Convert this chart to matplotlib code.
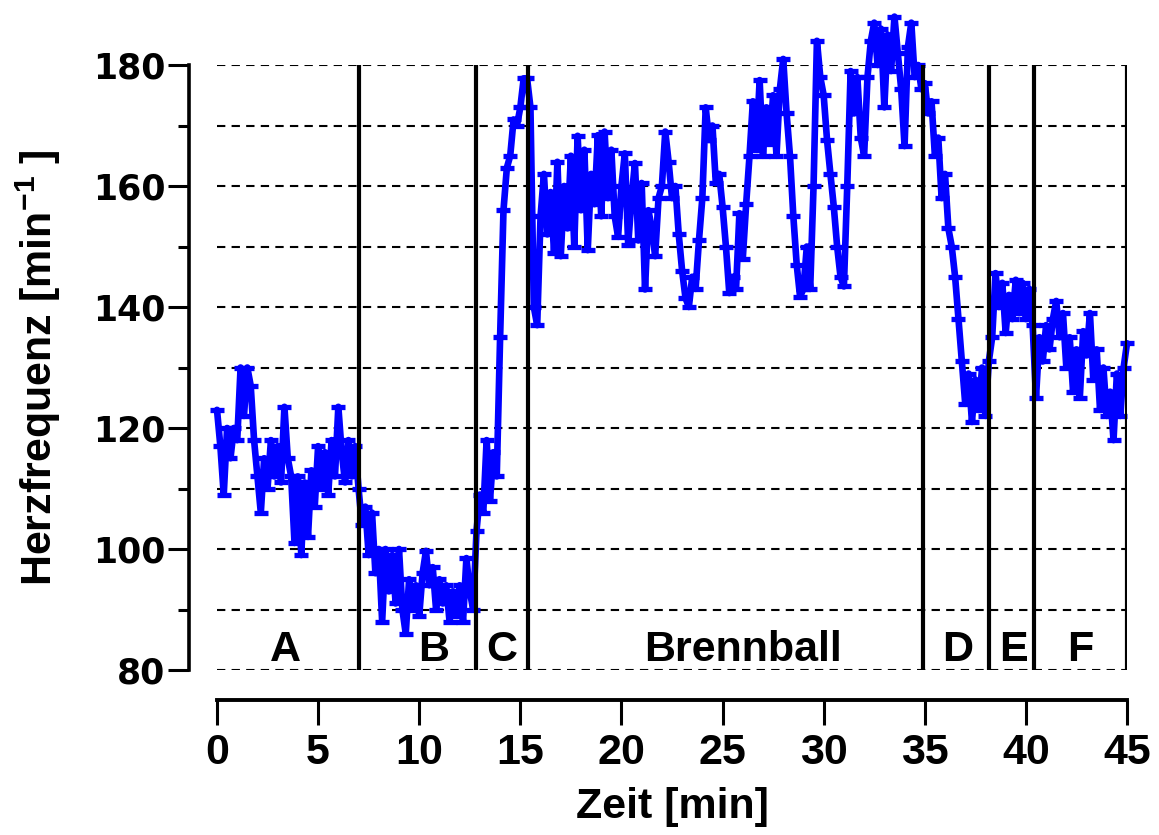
import numpy as np
import matplotlib
matplotlib.use("Agg")
import matplotlib.pyplot as plt

plt.rcParams["mathtext.fontset"] = "custom"
plt.rcParams["mathtext.rm"] = "Liberation Sans:bold"
plt.rcParams["mathtext.bf"] = "Liberation Sans:bold"

# ---- data (heart rate, one sample every 10 s) ----
hr_A = [123, 117, 109, 120, 115, 120, 118, 130, 122, 130,
        127, 118, 112, 106, 115, 110, 118, 112, 117, 111,
        123.5, 115, 112, 101, 112, 99, 111, 102, 113, 107,
        117, 110, 116, 109, 118, 112, 123.5, 116, 111, 118,
        112, 117]
hr_B = [110, 104, 107, 99, 106, 96, 100, 88, 100, 93,
        99, 91, 100, 90, 86, 95, 90, 94, 89, 96,
        99.7, 94, 97, 90, 95, 91, 94, 88, 93, 89,
        94, 88, 98.5, 93, 90]
hr_C = [103, 109, 106, 118, 108, 116, 112, 135, 156, 163,
        165, 171, 170, 173, 177.8, 177.8]
hr_brennball = [173, 140, 137, 155, 162, 152, 159, 149, 164, 148.4,
                160, 153, 165, 150, 168.3, 156, 166, 149.4, 162, 157,
                168.4, 155, 169, 158, 166, 155, 151.6, 160, 165.4, 150.3,
                158, 163.8, 151, 160.5, 142.9, 156, 153, 148.4, 158, 160,
                169, 164, 158, 160, 152, 146, 141.5, 140, 145, 143,
                151, 158, 173, 167.6, 170, 160.5, 162, 156.6, 150, 142.3,
                145, 143, 155.5, 148, 157, 165, 174, 166, 177.5, 165,
                173, 167, 175, 165, 176, 181, 172, 165, 155, 147,
                141.7, 143, 150, 143, 160, 184, 178, 175, 167.6, 162,
                156.6, 150, 145, 143.4, 160, 179, 172, 178, 168, 165,
                178, 184, 187, 180, 186, 173, 185, 179, 188, 182,
                176, 166.6, 183, 187, 178, 180, 176]
hr_D = [177, 172, 174, 165, 168, 158, 162, 153, 150, 145,
        138, 131, 124, 129, 121, 128, 123, 130, 122, 131]
hr_E = [135, 145.6, 140, 144, 135.7, 142, 138, 144.5, 139, 144,
        138, 143, 137]
hr_F = [125, 135, 131, 137, 133, 138, 141, 135, 139, 130,
        135, 126, 133, 125, 136, 132, 139, 128, 133, 123,
        130, 122, 126, 118, 129, 122, 130, 134]

phase_bounds = [7.0, 12.8, 15.4, 34.9, 38.2, 40.4, 45.0]
phase_labels = ["A", "B", "C", "Brennball", "D", "E", "F"]
phase_label_x = [3.4, 10.7, 14.1, 26.0, 36.6, 39.4, 42.7]
phase_label_y = 83.3

y_major = [80, 100, 120, 140, 160, 180]
y_minor = [90, 110, 130, 150, 170]
x_major = [0, 5, 10, 15, 20, 25, 30, 35, 40, 45]

hr = np.array(hr_A + hr_B + hr_C + hr_brennball + hr_D + hr_E + hr_F, dtype=float)
t = np.arange(len(hr)) / 6.0

# ---- figure ----
W, H = 1159, 835
fig = plt.figure(figsize=(W / 100, H / 100), dpi=100)
ax = fig.add_axes([217 / W, 1 - 670 / H, 910 / W, 605 / H])
ax.set_xlim(0, 45)
ax.set_ylim(80, 180)

# dashed horizontal grid
for yv in sorted(y_major + y_minor):
    ax.axhline(yv, color="black", lw=1.5, ls=(0, (4, 3)), zorder=1)

ax.plot(t, hr, color="#0000ff", lw=4.8, marker="_", ms=10.5, mew=3.8,
        solid_joinstyle="round", solid_capstyle="round", clip_on=False, zorder=3)

ax.vlines(phase_bounds, 80, 180, color="black", lw=3.0, zorder=4)

for lab, xl in zip(phase_labels, phase_label_x):
    ax.text(xl, phase_label_y, lab, ha="center", va="center",
            fontsize=31, fontweight="bold", family="Liberation Sans", zorder=5)

for s in ["top", "right"]:
    ax.spines[s].set_visible(False)
ax.spines["left"].set_position(("outward", 20))
ax.spines["bottom"].set_position(("outward", 21.6))
ax.spines["left"].set_linewidth(2.6)
ax.spines["bottom"].set_linewidth(2.8)

ax.set_yticks(y_major)
ax.set_yticks(y_minor, minor=True)
ax.set_xticks(x_major)
ax.tick_params(axis="y", which="major", length=15, width=2.2, pad=2,
               labelsize=25)
ax.tick_params(axis="y", which="minor", length=8, width=2.2)
ax.tick_params(axis="x", which="major", length=18, width=2.2, pad=6,
               labelsize=31)
for lbl in ax.get_yticklabels():
    lbl.set_fontfamily("DejaVu Sans")
    lbl.set_fontweight("bold")
for lbl in ax.get_xticklabels():
    lbl.set_fontfamily("Liberation Sans")
    lbl.set_fontweight("bold")

ax.set_xlabel("Zeit [min]", fontsize=31, fontweight="bold",
              family="Liberation Sans", labelpad=10)
ax.set_ylabel("Herzfrequenz [min$\\mathregular{^{-1}}$ ]", fontsize=31,
              fontweight="bold", family="Liberation Sans", labelpad=22)

fig.savefig("out.png", dpi=100)
